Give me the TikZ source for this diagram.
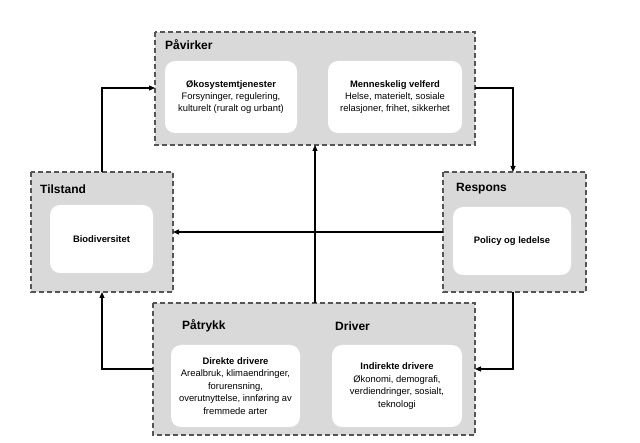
\documentclass[tikz,border=0pt]{standalone}
\usepackage{fontspec}
\setmainfont{Liberation Sans}
\usetikzlibrary{arrows.meta}
\definecolor{panelgray}{HTML}{D9D9D9}
\definecolor{dashgray}{HTML}{555555}
\tikzset{
  panel/.style={draw=dashgray, fill=panelgray, line width=1.1pt, dash pattern=on 5pt off 3pt},
  inner/.style={fill=white, rounded corners=10pt},
  head/.style={font=\fontsize{12}{14}\selectfont\bfseries, anchor=west, inner sep=0pt},
  body/.style={font=\fontsize{9.4}{12.4}\selectfont, align=center, inner sep=0pt},
  conn/.style={line width=1.1pt, -{Triangle[length=6pt,width=5pt]}}
}
\begin{document}
\begin{tikzpicture}[x=1pt,y=-1pt]
\useasboundingbox (0,0) rectangle (640,443);
% panels
\draw[panel] (155,32) rectangle (475,145);
\draw[panel] (31,172) rectangle (173,292);
\draw[panel] (443,172) rectangle (586,292);
\draw[panel] (153,303) rectangle (475,435);
\coordinate (pavL) at (155,88);
\coordinate (pavR) at (475,88);
\coordinate (pavB) at (315,145);
\coordinate (tilT) at (102,172);
\coordinate (tilB) at (102,292);
\coordinate (tilR) at (173,232);
\coordinate (resT) at (513,172);
\coordinate (resB) at (513,292);
\coordinate (resL) at (443,232);
\coordinate (drvT) at (315,303);
\coordinate (drvL) at (153,369);
\coordinate (drvR) at (475,369);
% inner boxes
\fill[inner] (165,61) rectangle (297,133);
\fill[inner] (328,61) rectangle (462,133);
\fill[inner] (50,205) rectangle (153,273);
\fill[inner] (453,207) rectangle (571,275);
\fill[inner] (171,345) rectangle (300,427);
\fill[inner] (332,345) rectangle (462,427);
% headings
\node[head] (hpav) at (165,45) {Påvirker};
\node[head] (htil) at (40,189) {Tilstand};
\node[head] (hres) at (456,189) {Respons};
\node[head] (hpat) at (182,326) {Påtrykk};
\node[head] (hdri) at (335,326) {Driver};
% texts
\node[body] (oko) at (231,97) {\textbf{Økosystemtjenester}\\Forsyninger, regulering,\\kulturelt (ruralt og urbant)};
\node[body] (men) at (395,97) {\textbf{Menneskelig velferd}\\Helse, materielt, sosiale\\relasjoner, frihet, sikkerhet};
\node[body] (bio) at (101.5,239) {\textbf{Biodiversitet}};
\node[body] (pol) at (512,241) {\textbf{Policy og ledelse}};
\node[body] (dir) at (235.5,386) {\textbf{Direkte drivere}\\Arealbruk, klimaendringer,\\forurensning,\\overutnyttelse, innføring av\\fremmede arter};
\node[body] (ind) at (397,386) {\textbf{Indirekte drivere}\\Økonomi, demografi,\\verdiendringer, sosialt,\\teknologi};
% connectors
\draw[conn] (tilT) |- (pavL);
\draw[conn] (pavR) -| (resT);
\draw[conn] (resL) -- (tilR);
\draw[conn] (resB) |- (drvR);
\draw[conn] (drvL) -| (tilB);
\draw[conn] (drvT) -- (pavB);
\end{tikzpicture}
\end{document}
